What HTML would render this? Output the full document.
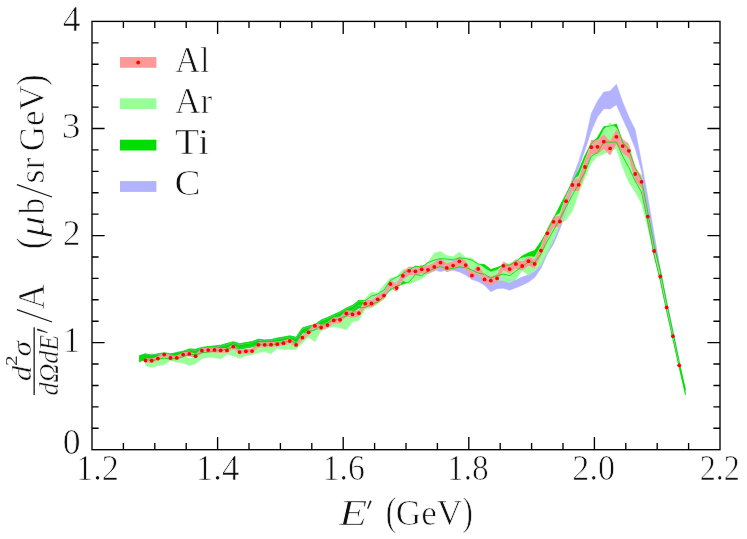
<!DOCTYPE html>
<html><head><meta charset="utf-8"><title>chart</title>
<style>html,body{margin:0;padding:0;background:#fff}svg{display:block}</style></head>
<body>
<svg width="747" height="539" viewBox="0 0 747 539">
<rect width="747" height="539" fill="#fff"/>
<polygon points="145.4,354.7 151.7,353.8 157.9,354.7 164.2,353.8 170.5,354.7 176.8,352.0 183.1,351.1 189.3,349.9 195.6,350.3 201.9,348.4 208.2,347.6 214.5,346.9 220.7,346.2 227.0,344.4 233.3,342.7 239.6,344.7 245.9,343.6 252.1,342.6 258.4,340.2 264.7,340.9 271.0,340.6 277.3,339.0 283.5,338.0 289.8,336.8 296.1,338.3 302.4,328.9 308.7,326.9 314.9,325.6 321.2,320.9 327.5,318.4 333.8,315.6 340.1,312.7 346.3,309.1 352.6,306.2 358.9,301.2 365.2,301.7 371.5,297.1 377.7,295.1 384.0,291.1 390.3,281.5 396.6,278.0 402.9,274.6 409.1,271.1 415.4,267.1 421.7,268.1 428.0,263.6 434.3,260.1 440.5,261.6 446.8,260.1 453.1,260.2 459.4,262.0 465.7,265.1 471.9,269.6 478.2,271.6 484.5,275.2 490.8,281.7 497.1,278.7 503.3,278.2 509.6,280.2 515.9,280.0 522.2,277.0 528.5,274.7 534.7,271.0 541.0,264.5 547.3,251.5 553.6,239.0 559.9,224.0 566.1,205.0 572.4,178.0 578.7,161.5 585.0,141.5 591.3,113.5 597.5,101.0 603.8,92.0 610.1,91.0 616.4,84.2 622.7,102.0 628.9,117.0 635.2,129.7 641.5,162.0 647.8,197.0 654.1,234.0 660.3,268.8 666.6,300.4 672.9,330.0 679.2,359.8 679.2,364.4 672.9,336.0 666.6,308.0 660.3,277.8 654.1,256.0 647.8,224.0 641.5,171.0 635.2,148.5 628.9,132.5 622.7,119.0 616.4,104.7 610.1,109.0 603.8,108.8 597.5,117.0 591.3,131.0 585.0,150.0 578.7,168.0 572.4,186.0 566.1,212.0 559.9,229.0 553.6,244.0 547.3,254.0 541.0,268.2 534.7,277.5 528.5,282.1 522.2,285.2 515.9,287.7 509.6,290.2 503.3,288.2 497.1,288.7 490.8,291.7 484.5,285.2 478.2,281.6 471.9,279.6 465.7,275.1 459.4,272.0 453.1,270.2 446.8,270.1 440.5,271.6 434.3,270.1 428.0,267.6 421.7,272.1 415.4,271.1 409.1,275.1 402.9,278.6 396.6,282.0 390.3,285.5 384.0,295.1 377.7,299.1 371.5,301.1 365.2,305.7 358.9,305.2 352.6,310.2 346.3,313.1 340.1,316.7 333.8,319.6 327.5,322.4 321.2,324.9 314.9,329.6 308.7,330.9 302.4,332.9 296.1,342.3 289.8,340.8 283.5,342.0 277.3,343.0 271.0,344.6 264.7,344.9 258.4,344.2 252.1,346.6 245.9,347.6 239.6,348.7 233.3,346.7 227.0,348.4 220.7,350.2 214.5,350.9 208.2,351.6 201.9,352.4 195.6,354.3 189.3,353.9 183.1,356.4 176.8,357.8 170.5,358.7 164.2,357.8 157.9,358.7 151.7,360.4 145.4,358.7" fill="#b2b2ff"/>
<polygon points="139.1,355.8 145.4,353.7 151.7,355.4 157.9,353.7 164.2,352.8 170.5,353.7 176.8,352.8 183.1,351.4 189.3,348.9 195.6,349.3 201.9,347.4 208.2,346.6 214.5,345.9 220.7,345.2 227.0,343.4 233.3,341.7 239.6,343.7 245.9,342.6 252.1,341.6 258.4,339.2 264.7,339.9 271.0,339.6 277.3,338.0 283.5,337.0 289.8,335.8 296.1,337.3 302.4,327.9 308.7,325.9 314.9,324.6 321.2,319.9 327.5,317.4 333.8,314.6 340.1,311.7 346.3,308.1 352.6,305.2 358.9,300.2 365.2,300.7 371.5,296.1 377.7,294.1 384.0,290.1 390.3,280.5 396.6,277.0 402.9,273.6 409.1,270.1 415.4,266.1 421.7,267.1 428.0,262.6 434.3,260.1 440.5,258.6 446.8,259.1 453.1,259.8 459.4,257.8 465.7,258.6 471.9,260.1 478.2,264.1 484.5,264.6 490.8,269.6 497.1,267.6 503.3,265.1 509.6,265.1 515.9,261.6 522.2,256.0 528.5,252.7 534.7,250.6 541.0,241.6 547.3,231.0 553.6,218.5 559.9,206.0 566.1,194.0 572.4,182.0 578.7,170.5 585.0,155.5 591.3,143.5 597.5,137.4 603.8,126.7 610.1,126.1 616.4,124.1 622.7,142.1 628.9,150.2 635.2,167.6 641.5,179.6 647.8,212.0 654.1,245.3 660.3,270.8 666.6,302.4 672.9,332.0 679.2,361.8 685.5,389.7 685.5,394.9 679.2,367.4 672.9,339.0 666.6,311.0 660.3,280.8 654.1,255.3 647.8,222.0 641.5,192.0 635.2,181.0 628.9,167.6 622.7,156.2 616.4,142.1 610.1,142.1 603.8,142.1 597.5,152.6 591.3,156.2 585.0,172.0 578.7,184.0 572.4,195.0 566.1,207.0 559.9,219.0 553.6,230.0 547.3,241.0 541.0,254.0 534.7,262.5 528.5,262.0 522.2,266.6 515.9,271.1 509.6,275.6 503.3,274.1 497.1,275.6 490.8,278.1 484.5,274.1 478.2,273.1 471.9,270.1 465.7,267.6 459.4,267.0 453.1,268.6 446.8,269.1 440.5,266.6 434.3,268.6 428.0,271.1 421.7,275.6 415.4,274.6 409.1,282.1 402.9,284.1 396.6,286.1 390.3,290.1 384.0,296.4 377.7,302.0 371.5,304.0 365.2,307.5 358.9,308.0 352.6,312.2 346.3,316.0 340.1,318.5 333.8,320.0 327.5,322.8 321.2,325.3 314.9,330.0 308.7,331.3 302.4,333.3 296.1,342.7 289.8,341.2 283.5,342.4 277.3,343.4 271.0,345.0 264.7,345.3 258.4,344.6 252.1,347.0 245.9,348.0 239.6,349.1 233.3,347.1 227.0,348.8 220.7,350.6 214.5,351.3 208.2,352.0 201.9,352.8 195.6,354.7 189.3,354.3 183.1,356.8 176.8,358.2 170.5,359.1 164.2,358.2 157.9,359.1 151.7,360.8 145.4,359.1 139.1,361.9" fill="#00dd00"/>
<polygon points="145.4,362.0 151.7,362.2 157.9,360.1 164.2,356.1 170.5,359.4 176.8,359.4 183.1,356.1 189.3,358.3 195.6,357.7 201.9,352.2 208.2,351.6 214.5,351.4 220.7,351.9 227.0,351.9 233.3,348.2 239.6,353.6 245.9,352.8 252.1,352.6 258.4,346.3 264.7,346.3 271.0,346.2 277.3,345.7 283.5,344.7 289.8,342.5 296.1,346.4 302.4,339.2 308.7,333.8 314.9,327.4 321.2,329.1 327.5,326.6 333.8,321.9 340.1,321.3 346.3,315.0 352.6,315.9 358.9,314.7 365.2,298.5 371.5,292.1 377.7,293.1 384.0,285.1 390.3,278.1 396.6,276.8 402.9,269.6 409.1,268.5 415.4,269.0 421.7,267.5 428.0,262.6 434.3,252.9 440.5,251.5 446.8,255.6 453.1,256.8 459.4,252.0 465.7,257.5 471.9,258.0 478.2,263.6 484.5,268.0 490.8,272.0 497.1,270.0 503.3,265.0 509.6,263.6 515.9,259.6 522.2,258.0 528.5,256.5 534.7,257.0 541.0,246.0 547.3,229.0 553.6,217.0 559.9,213.0 566.1,196.0 572.4,180.0 578.7,176.0 585.0,160.0 591.3,145.0 597.5,142.5 603.8,129.5 610.1,122.7 616.4,128.0 622.7,140.0 628.9,147.0 635.2,168.0 641.5,178.0 647.8,211.0 654.1,249.4 660.3,274.9 666.6,305.8 672.9,334.6 679.2,363.7 679.2,366.9 672.9,337.8 666.6,309.0 660.3,278.1 654.1,252.6 647.8,228.0 641.5,203.5 635.2,192.0 628.9,182.6 622.7,167.5 616.4,148.8 610.1,150.0 603.8,154.2 597.5,156.2 591.3,163.0 585.0,178.0 578.7,193.0 572.4,211.0 566.1,220.0 559.9,224.0 553.6,240.0 547.3,252.5 541.0,265.0 534.7,270.5 528.5,275.3 522.2,270.5 515.9,279.6 509.6,282.7 503.3,280.6 497.1,280.1 490.8,280.0 484.5,279.0 478.2,274.0 471.9,271.0 465.7,268.0 459.4,266.0 453.1,269.0 446.8,270.0 440.5,267.0 434.3,271.0 428.0,273.6 421.7,278.7 415.4,281.4 409.1,284.1 402.9,280.5 396.6,289.0 390.3,288.0 384.0,299.0 377.7,304.0 371.5,308.0 365.2,309.0 358.9,320.4 352.6,321.8 346.3,329.8 340.1,327.8 333.8,326.5 327.5,328.1 321.2,330.6 314.9,341.7 308.7,337.2 302.4,343.0 296.1,349.5 289.8,349.5 283.5,349.5 277.3,348.2 271.0,353.7 264.7,351.6 258.4,352.7 252.1,354.7 245.9,355.7 239.6,358.2 233.3,355.7 227.0,354.2 220.7,359.0 214.5,357.7 208.2,357.2 201.9,358.7 195.6,363.7 189.3,365.6 183.1,363.0 176.8,362.3 170.5,360.5 164.2,364.7 157.9,365.4 151.7,367.5 145.4,365.6" fill="#99ff99"/>
<polygon points="145.4,358.2 151.7,358.5 157.9,356.3 164.2,352.2 170.5,355.6 176.8,355.6 183.1,352.2 189.3,351.5 195.6,353.8 201.9,348.2 208.2,347.6 214.5,347.4 220.7,347.9 227.0,347.9 233.3,344.1 239.6,349.7 245.9,348.8 252.1,348.6 258.4,342.2 264.7,342.2 271.0,342.1 277.3,341.6 283.5,340.6 289.8,338.3 296.1,342.3 302.4,334.9 308.7,329.4 314.9,322.9 321.2,324.6 327.5,322.0 333.8,317.2 340.1,316.6 346.3,310.2 352.6,311.1 358.9,309.9 365.2,300.1 371.5,299.9 377.7,295.6 384.0,291.9 390.3,280.0 396.6,284.1 402.9,271.6 409.1,266.5 415.4,267.0 421.7,265.0 428.0,265.5 434.3,262.5 440.5,258.1 446.8,263.5 453.1,261.2 459.4,256.8 465.7,260.7 471.9,271.4 478.2,264.5 484.5,275.3 490.8,276.5 497.1,274.3 503.3,261.4 509.6,264.7 515.9,259.4 522.2,261.6 528.5,256.7 534.7,259.4 541.0,245.8 547.3,228.1 553.6,216.4 559.9,216.1 566.1,195.3 572.4,178.7 578.7,178.5 585.0,160.3 591.3,140.0 597.5,139.6 603.8,134.4 610.1,141.3 616.4,129.4 622.7,138.9 628.9,143.7 635.2,167.5 641.5,175.4 647.8,211.0 654.1,247.2 660.3,273.2 666.6,304.6 672.9,334.0 679.2,363.6 679.2,367.0 672.9,338.4 666.6,310.2 660.3,279.8 654.1,254.8 647.8,222.2 641.5,188.2 635.2,180.5 628.9,157.9 622.7,153.3 616.4,144.2 610.1,155.5 603.8,149.0 597.5,154.0 591.3,154.4 585.0,173.7 578.7,191.1 572.4,191.3 566.1,207.1 559.9,226.9 553.6,227.2 547.3,238.5 541.0,255.4 534.7,268.4 528.5,265.7 522.2,270.4 515.9,268.4 509.6,273.5 503.3,270.2 497.1,282.5 490.8,284.7 484.5,283.5 478.2,273.3 471.9,279.8 465.7,269.5 459.4,265.8 453.1,270.0 446.8,272.3 440.5,267.1 434.3,271.3 428.0,274.1 421.7,273.6 415.4,275.6 409.1,275.1 402.9,280.0 396.6,291.9 390.3,288.0 384.0,299.3 377.7,303.0 371.5,307.1 365.2,307.3 358.9,316.5 352.6,317.7 346.3,316.8 340.1,323.0 333.8,323.6 327.5,328.2 321.2,330.6 314.9,328.9 308.7,335.2 302.4,340.5 296.1,347.5 289.8,343.7 283.5,345.8 277.3,346.8 271.0,347.3 264.7,347.4 258.4,347.4 252.1,353.6 245.9,353.8 239.6,354.5 233.3,349.3 227.0,352.9 220.7,352.9 214.5,352.4 208.2,352.6 201.9,353.2 195.6,358.6 189.3,356.3 183.1,357.0 176.8,360.2 170.5,360.2 164.2,357.0 157.9,360.9 151.7,362.9 145.4,362.8" fill="#ff9999"/>
<polyline points="145.4,354.7 151.7,353.8 157.9,354.7 164.2,353.8 170.5,354.7 176.8,352.0 183.1,351.1 189.3,349.9 195.6,350.3 201.9,348.4 208.2,347.6 214.5,346.9 220.7,346.2 227.0,344.4 233.3,342.7 239.6,344.7 245.9,343.6 252.1,342.6 258.4,340.2 264.7,340.9 271.0,340.6 277.3,339.0 283.5,338.0 289.8,336.8 296.1,338.3 302.4,328.9 308.7,326.9 314.9,325.6 321.2,320.9 327.5,318.4 333.8,315.6 340.1,312.7 346.3,309.1 352.6,306.2 358.9,301.2 365.2,301.7 371.5,297.1 377.7,295.1 384.0,291.1 390.3,281.5 396.6,278.0 402.9,274.6 409.1,271.1 415.4,267.1 421.7,268.1 428.0,263.6 434.3,260.1 440.5,261.6 446.8,260.1 453.1,260.2 459.4,262.0 465.7,265.1 471.9,269.6 478.2,271.6 484.5,275.2 490.8,281.7 497.1,278.7 503.3,278.2 509.6,280.2 515.9,280.0 522.2,277.0 528.5,274.7 534.7,271.0 541.0,264.5 547.3,251.5 553.6,239.0 559.9,224.0 566.1,205.0 572.4,178.0 578.7,161.5 585.0,141.5 591.3,113.5 597.5,101.0 603.8,92.0 610.1,91.0 616.4,84.2 622.7,102.0 628.9,117.0 635.2,129.7 641.5,162.0 647.8,197.0 654.1,234.0 660.3,268.8 666.6,300.4 672.9,330.0 679.2,359.8" fill="none" stroke="#b2b2ff" stroke-width="0.5"/>
<polyline points="145.4,358.7 151.7,360.4 157.9,358.7 164.2,357.8 170.5,358.7 176.8,357.8 183.1,356.4 189.3,353.9 195.6,354.3 201.9,352.4 208.2,351.6 214.5,350.9 220.7,350.2 227.0,348.4 233.3,346.7 239.6,348.7 245.9,347.6 252.1,346.6 258.4,344.2 264.7,344.9 271.0,344.6 277.3,343.0 283.5,342.0 289.8,340.8 296.1,342.3 302.4,332.9 308.7,330.9 314.9,329.6 321.2,324.9 327.5,322.4 333.8,319.6 340.1,316.7 346.3,313.1 352.6,310.2 358.9,305.2 365.2,305.7 371.5,301.1 377.7,299.1 384.0,295.1 390.3,285.5 396.6,282.0 402.9,278.6 409.1,275.1 415.4,271.1 421.7,272.1 428.0,267.6 434.3,270.1 440.5,271.6 446.8,270.1 453.1,270.2 459.4,272.0 465.7,275.1 471.9,279.6 478.2,281.6 484.5,285.2 490.8,291.7 497.1,288.7 503.3,288.2 509.6,290.2 515.9,287.7 522.2,285.2 528.5,282.1 534.7,277.5 541.0,268.2 547.3,254.0 553.6,244.0 559.9,229.0 566.1,212.0 572.4,186.0 578.7,168.0 585.0,150.0 591.3,131.0 597.5,117.0 603.8,108.8 610.1,109.0 616.4,104.7 622.7,119.0 628.9,132.5 635.2,148.5 641.5,171.0 647.8,224.0 654.1,256.0 660.3,277.8 666.6,308.0 672.9,336.0 679.2,364.4" fill="none" stroke="#b2b2ff" stroke-width="0.5"/>
<polyline points="145.4,362.0 151.7,362.2 157.9,360.1 164.2,356.1 170.5,359.4 176.8,359.4 183.1,356.1 189.3,358.3 195.6,357.7 201.9,352.2 208.2,351.6 214.5,351.4 220.7,351.9 227.0,351.9 233.3,348.2 239.6,353.6 245.9,352.8 252.1,352.6 258.4,346.3 264.7,346.3 271.0,346.2 277.3,345.7 283.5,344.7 289.8,342.5 296.1,346.4 302.4,339.2 308.7,333.8 314.9,327.4 321.2,329.1 327.5,326.6 333.8,321.9 340.1,321.3 346.3,315.0 352.6,315.9 358.9,314.7 365.2,298.5 371.5,292.1 377.7,293.1 384.0,285.1 390.3,278.1 396.6,276.8 402.9,269.6 409.1,268.5 415.4,269.0 421.7,267.5 428.0,262.6 434.3,252.9 440.5,251.5 446.8,255.6 453.1,256.8 459.4,252.0 465.7,257.5 471.9,258.0 478.2,263.6 484.5,268.0 490.8,272.0 497.1,270.0 503.3,265.0 509.6,263.6 515.9,259.6 522.2,258.0 528.5,256.5 534.7,257.0 541.0,246.0 547.3,229.0 553.6,217.0 559.9,213.0 566.1,196.0 572.4,180.0 578.7,176.0 585.0,160.0 591.3,145.0 597.5,142.5 603.8,129.5 610.1,122.7 616.4,128.0 622.7,140.0 628.9,147.0 635.2,168.0 641.5,178.0 647.8,211.0 654.1,249.4 660.3,274.9 666.6,305.8 672.9,334.6 679.2,363.7" fill="none" stroke="#99ff99" stroke-width="0.5"/>
<polyline points="145.4,365.6 151.7,367.5 157.9,365.4 164.2,364.7 170.5,360.5 176.8,362.3 183.1,363.0 189.3,365.6 195.6,363.7 201.9,358.7 208.2,357.2 214.5,357.7 220.7,359.0 227.0,354.2 233.3,355.7 239.6,358.2 245.9,355.7 252.1,354.7 258.4,352.7 264.7,351.6 271.0,353.7 277.3,348.2 283.5,349.5 289.8,349.5 296.1,349.5 302.4,343.0 308.7,337.2 314.9,341.7 321.2,330.6 327.5,328.1 333.8,326.5 340.1,327.8 346.3,329.8 352.6,321.8 358.9,320.4 365.2,309.0 371.5,308.0 377.7,304.0 384.0,299.0 390.3,288.0 396.6,289.0 402.9,280.5 409.1,284.1 415.4,281.4 421.7,278.7 428.0,273.6 434.3,271.0 440.5,267.0 446.8,270.0 453.1,269.0 459.4,266.0 465.7,268.0 471.9,271.0 478.2,274.0 484.5,279.0 490.8,280.0 497.1,280.1 503.3,280.6 509.6,282.7 515.9,279.6 522.2,270.5 528.5,275.3 534.7,270.5 541.0,265.0 547.3,252.5 553.6,240.0 559.9,224.0 566.1,220.0 572.4,211.0 578.7,193.0 585.0,178.0 591.3,163.0 597.5,156.2 603.8,154.2 610.1,150.0 616.4,148.8 622.7,167.5 628.9,182.6 635.2,192.0 641.5,203.5 647.8,228.0 654.1,252.6 660.3,278.1 666.6,309.0 672.9,337.8 679.2,366.9" fill="none" stroke="#99ff99" stroke-width="0.5"/>
<polyline points="139.1,355.8 145.4,353.7 151.7,355.4 157.9,353.7 164.2,352.8 170.5,353.7 176.8,352.8 183.1,351.4 189.3,348.9 195.6,349.3 201.9,347.4 208.2,346.6 214.5,345.9 220.7,345.2 227.0,343.4 233.3,341.7 239.6,343.7 245.9,342.6 252.1,341.6 258.4,339.2 264.7,339.9 271.0,339.6 277.3,338.0 283.5,337.0 289.8,335.8 296.1,337.3 302.4,327.9 308.7,325.9 314.9,324.6 321.2,319.9 327.5,317.4 333.8,314.6 340.1,311.7 346.3,308.1 352.6,305.2 358.9,300.2 365.2,300.7 371.5,296.1 377.7,294.1 384.0,290.1 390.3,280.5 396.6,277.0 402.9,273.6 409.1,270.1 415.4,266.1 421.7,267.1 428.0,262.6 434.3,260.1 440.5,258.6 446.8,259.1 453.1,259.8 459.4,257.8 465.7,258.6 471.9,260.1 478.2,264.1 484.5,264.6 490.8,269.6 497.1,267.6 503.3,265.1 509.6,265.1 515.9,261.6 522.2,256.0 528.5,252.7 534.7,250.6 541.0,241.6 547.3,231.0 553.6,218.5 559.9,206.0 566.1,194.0 572.4,182.0 578.7,170.5 585.0,155.5 591.3,143.5 597.5,137.4 603.8,126.7 610.1,126.1 616.4,124.1 622.7,142.1 628.9,150.2 635.2,167.6 641.5,179.6 647.8,212.0 654.1,245.3 660.3,270.8 666.6,302.4 672.9,332.0 679.2,361.8 685.5,389.7" fill="none" stroke="#00dd00" stroke-width="0.85" stroke-linejoin="round"/>
<polyline points="139.1,361.9 145.4,359.1 151.7,360.8 157.9,359.1 164.2,358.2 170.5,359.1 176.8,358.2 183.1,356.8 189.3,354.3 195.6,354.7 201.9,352.8 208.2,352.0 214.5,351.3 220.7,350.6 227.0,348.8 233.3,347.1 239.6,349.1 245.9,348.0 252.1,347.0 258.4,344.6 264.7,345.3 271.0,345.0 277.3,343.4 283.5,342.4 289.8,341.2 296.1,342.7 302.4,333.3 308.7,331.3 314.9,330.0 321.2,325.3 327.5,322.8 333.8,320.0 340.1,318.5 346.3,316.0 352.6,312.2 358.9,308.0 365.2,307.5 371.5,304.0 377.7,302.0 384.0,296.4 390.3,290.1 396.6,286.1 402.9,284.1 409.1,282.1 415.4,274.6 421.7,275.6 428.0,271.1 434.3,268.6 440.5,266.6 446.8,269.1 453.1,268.6 459.4,267.0 465.7,267.6 471.9,270.1 478.2,273.1 484.5,274.1 490.8,278.1 497.1,275.6 503.3,274.1 509.6,275.6 515.9,271.1 522.2,266.6 528.5,262.0 534.7,262.5 541.0,254.0 547.3,241.0 553.6,230.0 559.9,219.0 566.1,207.0 572.4,195.0 578.7,184.0 585.0,172.0 591.3,156.2 597.5,152.6 603.8,142.1 610.1,142.1 616.4,142.1 622.7,156.2 628.9,167.6 635.2,181.0 641.5,192.0 647.8,222.0 654.1,255.3 660.3,280.8 666.6,311.0 672.9,339.0 679.2,367.4 685.5,394.9" fill="none" stroke="#00dd00" stroke-width="0.85" stroke-linejoin="round"/>
<circle cx="145.4" cy="360.5" r="1.9" fill="#ff0000"/>
<circle cx="151.7" cy="360.7" r="1.9" fill="#ff0000"/>
<circle cx="157.9" cy="358.6" r="1.9" fill="#ff0000"/>
<circle cx="164.2" cy="354.6" r="1.9" fill="#ff0000"/>
<circle cx="170.5" cy="357.9" r="1.9" fill="#ff0000"/>
<circle cx="176.8" cy="357.9" r="1.9" fill="#ff0000"/>
<circle cx="183.1" cy="354.6" r="1.9" fill="#ff0000"/>
<circle cx="189.3" cy="353.9" r="1.9" fill="#ff0000"/>
<circle cx="195.6" cy="356.2" r="1.9" fill="#ff0000"/>
<circle cx="201.9" cy="350.7" r="1.9" fill="#ff0000"/>
<circle cx="208.2" cy="350.1" r="1.9" fill="#ff0000"/>
<circle cx="214.5" cy="349.9" r="1.9" fill="#ff0000"/>
<circle cx="220.7" cy="350.4" r="1.9" fill="#ff0000"/>
<circle cx="227.0" cy="350.4" r="1.9" fill="#ff0000"/>
<circle cx="233.3" cy="346.7" r="1.9" fill="#ff0000"/>
<circle cx="239.6" cy="352.1" r="1.9" fill="#ff0000"/>
<circle cx="245.9" cy="351.3" r="1.9" fill="#ff0000"/>
<circle cx="252.1" cy="351.1" r="1.9" fill="#ff0000"/>
<circle cx="258.4" cy="344.8" r="1.9" fill="#ff0000"/>
<circle cx="264.7" cy="344.8" r="1.9" fill="#ff0000"/>
<circle cx="271.0" cy="344.7" r="1.9" fill="#ff0000"/>
<circle cx="277.3" cy="344.2" r="1.9" fill="#ff0000"/>
<circle cx="283.5" cy="343.2" r="1.9" fill="#ff0000"/>
<circle cx="289.8" cy="341.0" r="1.9" fill="#ff0000"/>
<circle cx="296.1" cy="344.9" r="1.9" fill="#ff0000"/>
<circle cx="302.4" cy="337.7" r="1.9" fill="#ff0000"/>
<circle cx="308.7" cy="332.3" r="1.9" fill="#ff0000"/>
<circle cx="314.9" cy="325.9" r="1.9" fill="#ff0000"/>
<circle cx="321.2" cy="327.6" r="1.9" fill="#ff0000"/>
<circle cx="327.5" cy="325.1" r="1.9" fill="#ff0000"/>
<circle cx="333.8" cy="320.4" r="1.9" fill="#ff0000"/>
<circle cx="340.1" cy="319.8" r="1.9" fill="#ff0000"/>
<circle cx="346.3" cy="313.5" r="1.9" fill="#ff0000"/>
<circle cx="352.6" cy="314.4" r="1.9" fill="#ff0000"/>
<circle cx="358.9" cy="313.2" r="1.9" fill="#ff0000"/>
<circle cx="365.2" cy="303.7" r="1.9" fill="#ff0000"/>
<circle cx="371.5" cy="303.5" r="1.9" fill="#ff0000"/>
<circle cx="377.7" cy="299.3" r="1.9" fill="#ff0000"/>
<circle cx="384.0" cy="295.6" r="1.9" fill="#ff0000"/>
<circle cx="390.3" cy="284.0" r="1.9" fill="#ff0000"/>
<circle cx="396.6" cy="288.0" r="1.9" fill="#ff0000"/>
<circle cx="402.9" cy="275.8" r="1.9" fill="#ff0000"/>
<circle cx="409.1" cy="270.8" r="1.9" fill="#ff0000"/>
<circle cx="415.4" cy="271.3" r="1.9" fill="#ff0000"/>
<circle cx="421.7" cy="269.3" r="1.9" fill="#ff0000"/>
<circle cx="428.0" cy="269.8" r="1.9" fill="#ff0000"/>
<circle cx="434.3" cy="266.9" r="1.9" fill="#ff0000"/>
<circle cx="440.5" cy="262.6" r="1.9" fill="#ff0000"/>
<circle cx="446.8" cy="267.9" r="1.9" fill="#ff0000"/>
<circle cx="453.1" cy="265.6" r="1.9" fill="#ff0000"/>
<circle cx="459.4" cy="261.3" r="1.9" fill="#ff0000"/>
<circle cx="465.7" cy="265.1" r="1.9" fill="#ff0000"/>
<circle cx="471.9" cy="275.6" r="1.9" fill="#ff0000"/>
<circle cx="478.2" cy="268.9" r="1.9" fill="#ff0000"/>
<circle cx="484.5" cy="279.4" r="1.9" fill="#ff0000"/>
<circle cx="490.8" cy="280.6" r="1.9" fill="#ff0000"/>
<circle cx="497.1" cy="278.4" r="1.9" fill="#ff0000"/>
<circle cx="503.3" cy="265.8" r="1.9" fill="#ff0000"/>
<circle cx="509.6" cy="269.1" r="1.9" fill="#ff0000"/>
<circle cx="515.9" cy="263.9" r="1.9" fill="#ff0000"/>
<circle cx="522.2" cy="266.0" r="1.9" fill="#ff0000"/>
<circle cx="528.5" cy="261.2" r="1.9" fill="#ff0000"/>
<circle cx="534.7" cy="263.9" r="1.9" fill="#ff0000"/>
<circle cx="541.0" cy="250.6" r="1.9" fill="#ff0000"/>
<circle cx="547.3" cy="233.3" r="1.9" fill="#ff0000"/>
<circle cx="553.6" cy="221.8" r="1.9" fill="#ff0000"/>
<circle cx="559.9" cy="221.5" r="1.9" fill="#ff0000"/>
<circle cx="566.1" cy="201.2" r="1.9" fill="#ff0000"/>
<circle cx="572.4" cy="185.0" r="1.9" fill="#ff0000"/>
<circle cx="578.7" cy="184.8" r="1.9" fill="#ff0000"/>
<circle cx="585.0" cy="167.0" r="1.9" fill="#ff0000"/>
<circle cx="591.3" cy="147.2" r="1.9" fill="#ff0000"/>
<circle cx="597.5" cy="146.8" r="1.9" fill="#ff0000"/>
<circle cx="603.8" cy="141.7" r="1.9" fill="#ff0000"/>
<circle cx="610.1" cy="148.4" r="1.9" fill="#ff0000"/>
<circle cx="616.4" cy="136.8" r="1.9" fill="#ff0000"/>
<circle cx="622.7" cy="146.1" r="1.9" fill="#ff0000"/>
<circle cx="628.9" cy="150.8" r="1.9" fill="#ff0000"/>
<circle cx="635.2" cy="174.0" r="1.9" fill="#ff0000"/>
<circle cx="641.5" cy="181.8" r="1.9" fill="#ff0000"/>
<circle cx="647.8" cy="216.6" r="1.9" fill="#ff0000"/>
<circle cx="654.1" cy="251.0" r="1.9" fill="#ff0000"/>
<circle cx="660.3" cy="276.5" r="1.9" fill="#ff0000"/>
<circle cx="666.6" cy="307.4" r="1.9" fill="#ff0000"/>
<circle cx="672.9" cy="336.2" r="1.9" fill="#ff0000"/>
<circle cx="679.2" cy="365.3" r="1.9" fill="#ff0000"/>
<g stroke="#000" stroke-width="1.35" fill="none" stroke-linecap="butt">
<rect x="92.00" y="21.40" width="628.00" height="428.30"/>
<path d="M123.40 449.70V443.10M123.40 21.40V28.00"/>
<path d="M154.80 449.70V443.10M154.80 21.40V28.00"/>
<path d="M186.20 449.70V443.10M186.20 21.40V28.00"/>
<path d="M217.60 449.70V437.10M217.60 21.40V34.00"/>
<path d="M249.00 449.70V443.10M249.00 21.40V28.00"/>
<path d="M280.40 449.70V443.10M280.40 21.40V28.00"/>
<path d="M311.80 449.70V443.10M311.80 21.40V28.00"/>
<path d="M343.20 449.70V437.10M343.20 21.40V34.00"/>
<path d="M374.60 449.70V443.10M374.60 21.40V28.00"/>
<path d="M406.00 449.70V443.10M406.00 21.40V28.00"/>
<path d="M437.40 449.70V443.10M437.40 21.40V28.00"/>
<path d="M468.80 449.70V437.10M468.80 21.40V34.00"/>
<path d="M500.20 449.70V443.10M500.20 21.40V28.00"/>
<path d="M531.60 449.70V443.10M531.60 21.40V28.00"/>
<path d="M563.00 449.70V443.10M563.00 21.40V28.00"/>
<path d="M594.40 449.70V437.10M594.40 21.40V34.00"/>
<path d="M625.80 449.70V443.10M625.80 21.40V28.00"/>
<path d="M657.20 449.70V443.10M657.20 21.40V28.00"/>
<path d="M688.60 449.70V443.10M688.60 21.40V28.00"/>
<path d="M92.00 428.28H98.60M720.00 428.28H713.40"/>
<path d="M92.00 406.87H98.60M720.00 406.87H713.40"/>
<path d="M92.00 385.45H98.60M720.00 385.45H713.40"/>
<path d="M92.00 364.04H98.60M720.00 364.04H713.40"/>
<path d="M92.00 342.62H104.60M720.00 342.62H707.40"/>
<path d="M92.00 321.21H98.60M720.00 321.21H713.40"/>
<path d="M92.00 299.79H98.60M720.00 299.79H713.40"/>
<path d="M92.00 278.38H98.60M720.00 278.38H713.40"/>
<path d="M92.00 256.96H98.60M720.00 256.96H713.40"/>
<path d="M92.00 235.55H104.60M720.00 235.55H707.40"/>
<path d="M92.00 214.13H98.60M720.00 214.13H713.40"/>
<path d="M92.00 192.72H98.60M720.00 192.72H713.40"/>
<path d="M92.00 171.30H98.60M720.00 171.30H713.40"/>
<path d="M92.00 149.89H98.60M720.00 149.89H713.40"/>
<path d="M92.00 128.47H104.60M720.00 128.47H707.40"/>
<path d="M92.00 107.06H98.60M720.00 107.06H713.40"/>
<path d="M92.00 85.64H98.60M720.00 85.64H713.40"/>
<path d="M92.00 64.23H98.60M720.00 64.23H713.40"/>
<path d="M92.00 42.81H98.60M720.00 42.81H713.40"/>
</g>
<rect x="120" y="57.0" width="36.4" height="10.8" fill="#ff9999"/>
<rect x="120" y="98.3" width="36.4" height="10.8" fill="#99ff99"/>
<rect x="120" y="139.7" width="36.4" height="10.8" fill="#00dd00"/>
<rect x="120" y="181.1" width="36.4" height="10.8" fill="#b2b2ff"/>
<circle cx="138.2" cy="62.5" r="1.9" fill="#ff0000"/>
<g font-family="Liberation Serif, serif" font-size="35" fill="#111" stroke="#fff" stroke-width="0.7" opacity="0.999">
<text x="175.24" y="71.5" textLength="34.27" lengthAdjust="spacingAndGlyphs">Al</text>
<text x="175.01" y="113.0" textLength="37.22" lengthAdjust="spacingAndGlyphs">Ar</text>
<text x="174.71" y="154.3" textLength="34.38" lengthAdjust="spacingAndGlyphs">Ti</text>
<text x="174.59" y="194.6" textLength="26.11" lengthAdjust="spacingAndGlyphs">C</text>
<text x="62.68" y="30.9" textLength="17.78" lengthAdjust="spacingAndGlyphs">4</text>
<text x="61.75" y="138.2" textLength="18.77" lengthAdjust="spacingAndGlyphs">3</text>
<text x="62.71" y="245.2" textLength="17.84" lengthAdjust="spacingAndGlyphs">2</text>
<text x="62.80" y="351.6" textLength="17.51" lengthAdjust="spacingAndGlyphs">1</text>
<text x="62.72" y="454.4" textLength="17.82" lengthAdjust="spacingAndGlyphs">0</text>
<text x="76.07" y="480" textLength="42.89" lengthAdjust="spacingAndGlyphs">1.2</text>
<text x="195.82" y="480" textLength="43.48" lengthAdjust="spacingAndGlyphs">1.4</text>
<text x="322.52" y="480" textLength="42.34" lengthAdjust="spacingAndGlyphs">1.6</text>
<text x="447.06" y="480" textLength="41.76" lengthAdjust="spacingAndGlyphs">1.8</text>
<text x="572.35" y="480" textLength="42.66" lengthAdjust="spacingAndGlyphs">2.0</text>
<text x="699.75" y="480" textLength="40.15" lengthAdjust="spacingAndGlyphs">2.2</text>
<text x="339.00" y="525" font-style="italic" textLength="28.27" lengthAdjust="spacingAndGlyphs">E</text>
<text x="385.74" y="524.6" font-size="40" textLength="10.59" lengthAdjust="spacingAndGlyphs">(</text>
<text x="395.74" y="525" textLength="66.52" lengthAdjust="spacingAndGlyphs">GeV</text>
<text x="462.18" y="524.6" font-size="40" textLength="10.59" lengthAdjust="spacingAndGlyphs">)</text>
<g transform="translate(43.6,0) rotate(-90)">
<text x="-249.26" y="0" font-size="40" textLength="12.02" lengthAdjust="spacingAndGlyphs">(</text>
<text x="-237.35" y="0" font-style="italic" textLength="21.43" lengthAdjust="spacingAndGlyphs">μ</text>
<text x="-214.26" y="0" textLength="16.29" lengthAdjust="spacingAndGlyphs">b</text>
<text x="-183.56" y="0" textLength="25.84" lengthAdjust="spacingAndGlyphs">sr</text>
<text x="-151.25" y="0" textLength="66.00" lengthAdjust="spacingAndGlyphs">GeV</text>
<text x="-85.96" y="0" font-size="40" textLength="11.65" lengthAdjust="spacingAndGlyphs">)</text>
<text x="-309.23" y="0" font-size="38.5" textLength="25.21" lengthAdjust="spacingAndGlyphs">A</text>
</g>
<g transform="rotate(-90)" font-size="27" font-style="italic" stroke-width="0.4">
<text x="-381.3" y="31.2" textLength="15.5" lengthAdjust="spacingAndGlyphs">d</text><text x="-365.9" y="16.6" font-size="16" font-style="normal" stroke="none" fill="#333" textLength="10.6" lengthAdjust="spacingAndGlyphs">2</text><text x="-356.6" y="31.2" textLength="15.4" lengthAdjust="spacingAndGlyphs">σ</text>
<text x="-395.6" y="58.4" textLength="60.8" lengthAdjust="spacingAndGlyphs">dΩdE</text>
</g>
</g>
<polygon points="370.0,500.2 371.7,501.3 368.2,509.0 367.1,508.5" fill="#222"/>
<polygon points="36.8,330.3 37.5,328.6 47.6,332.2 47.3,333.1" fill="#222"/>
<path d="M16.9 309.7L52.1 322.0M16.9 184.6L52.1 197.0" stroke="#1a1a1a" stroke-width="1.25" fill="none"/>
<rect x="33.5" y="327.3" width="1.3" height="67.8" fill="#1a1a1a"/>
</svg>
</body></html>
